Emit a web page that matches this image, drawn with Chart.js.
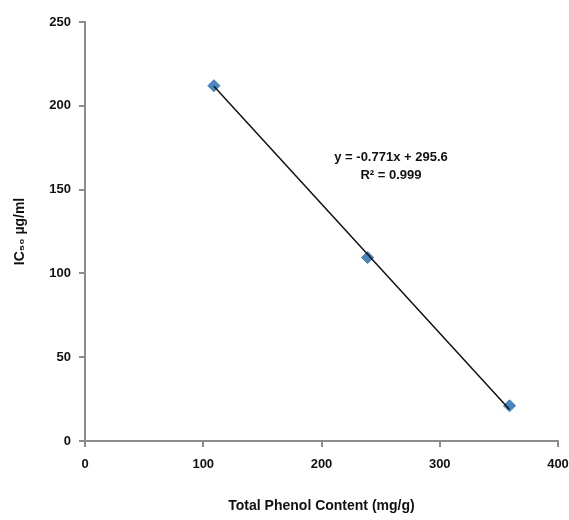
<!DOCTYPE html>
<html>
<head>
<meta charset="utf-8">
<script src="https://cdn.jsdelivr.net/npm/chart.js@4/dist/chart.umd.min.js"></script>
<style>
  html, body { margin: 0; padding: 0; background: #fff; }
  #chart { display: block; }
</style>
</head>
<body>
<canvas id="chart" width="569" height="520"></canvas>
<script>
// --- datos ---
const phenolContent = [109, 239, 359];     // mg/g
const ic50Values = [212, 109.5, 21];       // ug/ml
const trendX = [109, 359];                 // extremos de la linea de tendencia
const trendY = [211.6, 18.8];
const xTicks = [0, 100, 200, 300, 400];
const yTicks = [0, 50, 100, 150, 200, 250];
const equationLines = ['y = -0.771x + 295.6', 'R² = 0.999'];

const FONT = "'Liberation Sans', Arial, sans-serif";
const AXIS_COLOR = '#8c8c8c';

// texto de la ecuacion sobre el grafico
const equationPlugin = {
    id: 'equation',
    afterDatasetsDraw(chart) {
        const { ctx } = chart;
        ctx.save();
        ctx.fillStyle = '#111';
        ctx.font = `bold 13px ${FONT}`;
        ctx.textAlign = 'center';
        ctx.textBaseline = 'middle';
        ctx.fillText(equationLines[0], 391, 157);
        ctx.fillText(equationLines[1], 391, 175);
        ctx.restore();
    }
};

new Chart(document.querySelector('#chart'), {
    type: 'scatter',
    data: {
        datasets: [
            {
                label: 'Trend',
                data: trendX.map((x, i) => ({ x, y: trendY[i] })),
                showLine: true,
                borderColor: '#111',
                borderWidth: 1.5,
                pointRadius: 0,
                order: 1
            },
            {
                label: 'IC50',
                data: phenolContent.map((x, i) => ({ x, y: ic50Values[i] })),
                pointStyle: 'rectRot',
                pointRadius: 6,
                backgroundColor: '#4a86c0',
                borderColor: '#3d79b5',
                borderWidth: 1,
                order: 2
            }
        ]
    },
    options: {
        responsive: false,
        animation: false,
        layout: { padding: { top: 22, right: 11, left: 0, bottom: 0 } },
        plugins: {
            legend: { display: false },
            tooltip: { enabled: false }
        },
        scales: {
            x: {
                type: 'linear',
                min: 0,
                max: 400,
                afterBuildTicks: (scale) => { scale.ticks = xTicks.map(v => ({ value: v })); },
                afterFit: (scale) => { scale.height = 79; scale.paddingRight = 0; scale.paddingLeft = 0; },
                grid: {
                    drawOnChartArea: false,
                    drawTicks: true,
                    tickLength: 6,
                    color: AXIS_COLOR,
                    lineWidth: 2
                },
                border: { color: AXIS_COLOR, width: 2 },
                ticks: {
                    color: '#111',
                    font: { family: FONT, size: 13, weight: 'bold' },
                    padding: 10,
                    maxRotation: 0
                },
                title: {
                    display: true,
                    text: 'Total Phenol Content (mg/g)',
                    color: '#111',
                    font: { family: FONT, size: 14, weight: 'bold' },
                    padding: { top: 9, bottom: 5 }
                }
            },
            y: {
                type: 'linear',
                min: 0,
                max: 250,
                afterBuildTicks: (scale) => { scale.ticks = yTicks.map(v => ({ value: v })); },
                afterFit: (scale) => { scale.width = 85; },
                grid: {
                    drawOnChartArea: false,
                    drawTicks: true,
                    tickLength: 6,
                    color: AXIS_COLOR,
                    lineWidth: 2
                },
                border: { color: AXIS_COLOR, width: 2 },
                ticks: {
                    color: '#111',
                    font: { family: FONT, size: 13, weight: 'bold' },
                    padding: 8
                },
                title: {
                    display: true,
                    text: 'IC₅₀ µg/ml',
                    color: '#111',
                    font: { family: FONT, size: 14, weight: 'bold' },
                    padding: { top: 12, bottom: 0 }
                }
            }
        }
    },
    plugins: [equationPlugin]
});
</script>
</body>
</html>
